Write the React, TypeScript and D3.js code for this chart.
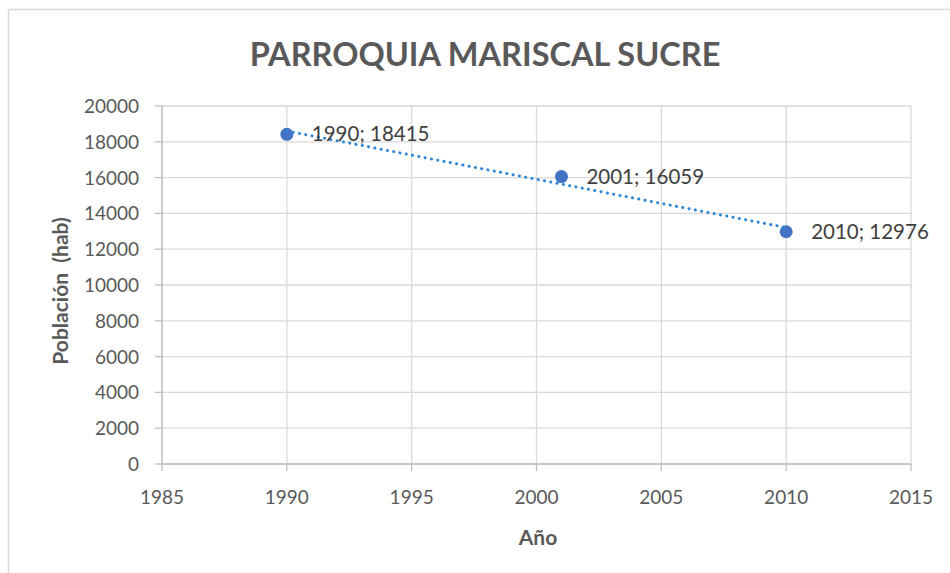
import React from "react";
import * as d3 from "d3";

const years = [1990, 2001, 2010];
const population = [18415, 16059, 12976];
const xTicks = [1985, 1990, 1995, 2000, 2005, 2010, 2015];
const yTicks = [0, 2000, 4000, 6000, 8000, 10000, 12000, 14000, 16000, 18000, 20000];
const title = "PARROQUIA MARISCAL SUCRE";
const xTitle = "Año";
const yTitle = "Población  (hab)";

const W = 950, H = 573;
const left = 162, right = 911, top = 106, bottom = 464;
const FONT = "Lato, 'Open Sans', sans-serif";

export default function App() {
  const x = d3.scaleLinear().domain([1985, 2015]).range([left, right]);
  const y = d3.scaleLinear().domain([0, 20000]).range([bottom, top]);

  // linear trendline (least squares)
  const mx = d3.mean(years)!;
  const my = d3.mean(population)!;
  const sxy = d3.sum(years.map((v, i) => (v - mx) * (population[i] - my)));
  const sxx = d3.sum(years.map((v) => (v - mx) ** 2));
  const slope = sxy / sxx;
  const icpt = my - slope * mx;
  const x0 = d3.min(years)!, x1 = d3.max(years)!;
  const trend = d3.line<number>().x((d) => x(d)).y((d) => y(icpt + slope * d))([x0, x1]);

  return (
    <svg width={W} height={H} style={{ position: "absolute", left: 0, top: 0, background: "#fff" }}>
      <rect x={8.5} y={9.5} width={W + 20} height={H + 20} fill="#fff" stroke="#d9d9d9" strokeWidth={1.5} />
      <text x={485} y={66} textAnchor="middle" fontFamily={FONT} fontWeight="bold" fontSize={32.5} fill="#595959">{title}</text>
      {yTicks.map((t) => (
        <line key={"h" + t} x1={left} x2={right} y1={y(t)} y2={y(t)} stroke="#d9d9d9" strokeWidth={1.3} />
      ))}
      {xTicks.map((t) => (
        <line key={"v" + t} x1={x(t)} x2={x(t)} y1={top} y2={bottom} stroke="#d9d9d9" strokeWidth={1.3} />
      ))}
      <line x1={left} x2={left} y1={top} y2={bottom} stroke="#bfbfbf" strokeWidth={1.3} />
      <line x1={left} x2={right} y1={bottom} y2={bottom} stroke="#bfbfbf" strokeWidth={1.5} />
      {yTicks.map((t) => (
        <g key={"yt" + t}>
          <line x1={left - 7} x2={left} y1={y(t)} y2={y(t)} stroke="#bfbfbf" strokeWidth={1.3} />
          <text x={139} y={y(t) + 7} textAnchor="end" fontFamily={FONT} fontSize={19} fill="#595959">{t}</text>
        </g>
      ))}
      {xTicks.map((t) => (
        <g key={"xt" + t}>
          <line x1={x(t)} x2={x(t)} y1={bottom} y2={bottom + 7} stroke="#bfbfbf" strokeWidth={1.3} />
          <text x={x(t)} y={504} textAnchor="middle" fontFamily={FONT} fontSize={19} fill="#595959">{t}</text>
        </g>
      ))}
      <text x={538} y={545} textAnchor="middle" fontFamily={FONT} fontWeight="bold" fontSize={21} fill="#595959">{xTitle}</text>
      <text transform={`translate(68,${291}) rotate(-90)`} textAnchor="middle" fontFamily={FONT} fontWeight="bold" fontSize={21} fill="#595959" style={{ whiteSpace: "pre" }}>{yTitle}</text>
      {years.map((yr, i) => (
        <circle key={"p" + yr} cx={x(yr)} cy={y(population[i])} r={6.5} fill="#4472c4" />
      ))}
      <path d={trend || ""} fill="none" stroke="#2e86d9" strokeWidth={3} strokeDasharray="0.1 6.3" strokeLinecap="round" />
      {years.map((yr, i) => (
        <text key={"l" + yr} x={x(yr) + 25} y={y(population[i]) + 7} fontFamily={FONT} fontSize={20.5} fill="#404040">{`${yr}; ${population[i]}`}</text>
      ))}
    </svg>
  );
}
